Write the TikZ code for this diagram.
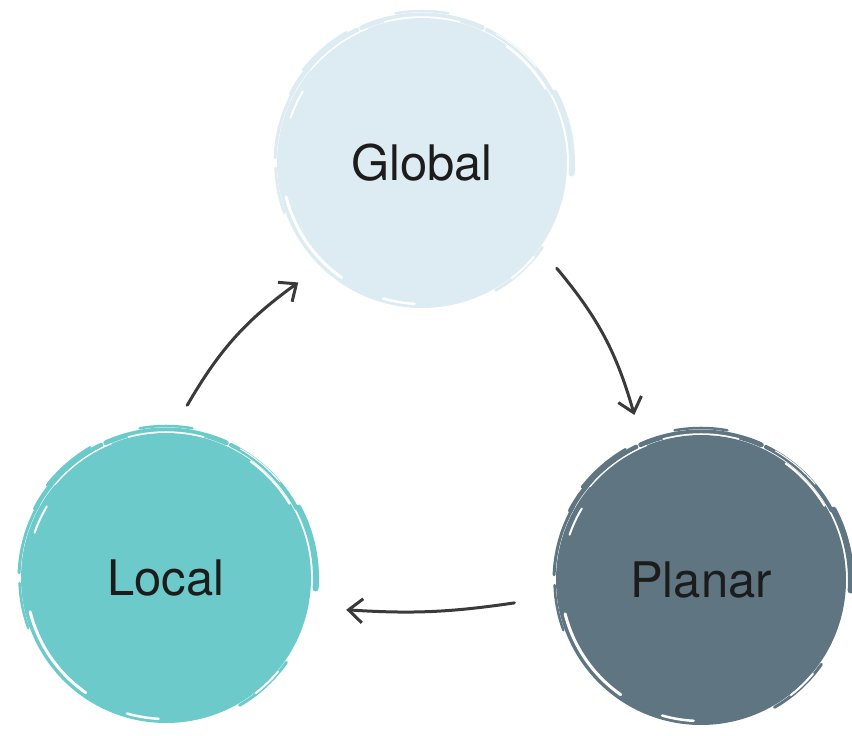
\documentclass[tikz,border=0pt]{standalone}
\usepackage{fontspec}
\setmainfont{TeX Gyre Heros}
\usetikzlibrary{arrows.meta,calc}
\definecolor{cglobal}{HTML}{DDEBF3}
\definecolor{clocal}{HTML}{6CCACB}
\definecolor{cplanar}{HTML}{5F7582}
\definecolor{cink}{HTML}{3A3A3A}
\definecolor{ctext}{HTML}{1C1C1C}
\newcommand\brushmarks[2]{%
  % outer rough strokes in the fill colour
  \foreach \a/\b/\r/\w in {-4/28/150/6, 28/64/148/4, 66/114/148/5, 116/152/148/4.5, 150/178/147/3, 182/200/146.5/2.5, 120/142/151/2.5, 80/100/152/2.5, 300/325/147/3}{
    \draw[#2, line width=\w pt, line cap=round] ($(#1)+(\a:\r pt)$) arc[start angle=\a, end angle=\b, radius=\r pt];
  }
  % white brush gaps inside the edge
  \foreach \a/\b/\r/\w in {149/161/139/2, 194/235/140/3, 254/267/141/2.5, 308/320/146/2, 31/54/144/2, 75/105/146/1.5, 112/140/145/1.2, 40/60/149/1}{
    \draw[white, line width=\w pt, line cap=round] ($(#1)+(\a:\r pt)$) arc[start angle=\a, end angle=\b, radius=\r pt];
  }
}
\tikzset{
  blob/.style={circle, minimum size=290pt, inner sep=0pt, text=ctext, font=\fontsize{49}{58}\selectfont},
  flow/.style={cink, line width=3pt, line cap=round, -{Straight Barb[length=14pt,width=24pt,line width=3pt]}}
}
\begin{document}
\begin{tikzpicture}[x=1pt,y=1pt]
\useasboundingbox (0,0) rectangle (852,736);
\node[blob, fill=cglobal] (G) at (422,573) {};
\node[blob, fill=clocal] (L) at (166,158) {};
\node[blob, fill=cplanar] (P) at (701,156) {};
\brushmarks{G}{cglobal}
\brushmarks{L}{clocal}
\brushmarks{P}{cplanar}
\node[blob] (Gt) at (G) {Global};
\node[blob] (Lt) at (L) {Local};
\node[blob] (Pt) at (P) {Planar};
\draw[flow] ($(L)+(83:174pt)$) to[bend left=12] ($(G)+(224:172pt)$);
\draw[flow] ($(G)+(322:171pt)$) to[bend left=12] ($(P)+(112:178pt)$);
\draw[flow] ($(P)+(187:188pt)$) to[bend left=6] ($(L)+(350:183pt)$);
\end{tikzpicture}
\end{document}
